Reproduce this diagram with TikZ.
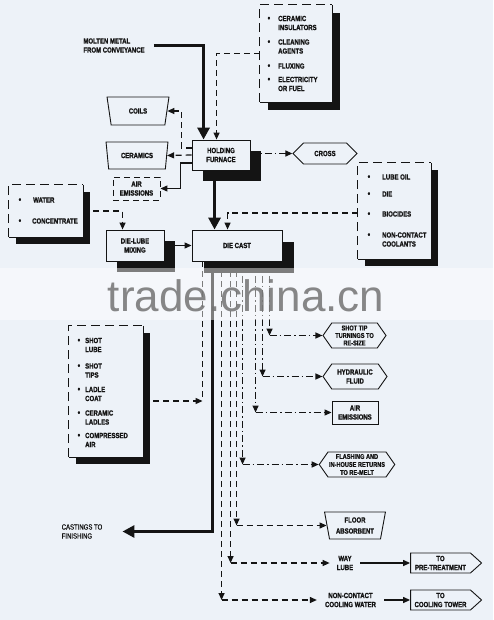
\documentclass[tikz,border=0pt]{standalone}
\usepackage{fontspec}
\usepackage{tikz}
\usetikzlibrary{arrows.meta,calc,shapes.geometric,shapes.symbols,shadows}
\newfontfamily\condfont{Liberation Sans}[FakeStretch=0.8, FakeBold=0.6]
\newfontfamily\condbold{Liberation Sans Bold}[FakeStretch=0.8, FakeBold=1.2]
\newfontfamily\markfont{Liberation Sans}
\definecolor{paper}{HTML}{EDF2F8}
\definecolor{ink}{HTML}{141414}
\newcommand{\bul}[1]{\llap{{\fontsize{9}{9}\selectfont\textbullet}\hspace{#1}}}
\tikzset{
  lab/.style={font=\condbold\fontsize{7.5}{9}\selectfont, text=ink, align=center, inner sep=1pt},
  itm/.style={lab, anchor=west, align=left},
  shad/.style={general shadow={fill=ink, shadow xshift=#1, shadow yshift=-#1}},
  box/.style={lab, draw=ink, fill=paper, line width=0.9pt},
  lbox/.style={fill=paper, inner sep=0pt},
  rim/.style={draw=ink, line width=0.9pt},
  trap/.style={box, trapezium, trapezium stretches=true, shape border rotate=180,
    trapezium left angle=78, trapezium right angle=78},
  hexa/.style={box, signal, signal to=west and east, signal pointer angle=110},
  flow/.style={draw=ink, line width=1.2pt, -{Triangle[length=7pt,width=6pt]}},
  heavy/.style={draw=ink, line width=3pt, -{Triangle[length=12pt,width=12pt]}},
  ds/.style={dash pattern=on 6pt off 4pt},
  dd/.style={dash pattern=on 7pt off 3pt on 1.5pt off 3pt},
}

\begin{document}
\begin{tikzpicture}[x=1pt, y=-1pt]
  \fill[paper] (0,0) rectangle (493,620);
  \useasboundingbox (0,0) rectangle (493,620);

  % holding furnace and its supplies
  \node[lab, inner xsep=9pt, align=left] (molten) at (114,45.5) {MOLTEN METAL\\FROM CONVEYANCE};
  \node[box, shad=11pt, minimum width=58pt, minimum height=30pt] (furnace) at (221,155) {HOLDING\\FURNACE};
  \node[lbox, shad=8pt, minimum width=72pt, minimum height=97pt] (supply) at (296,53.5) {};
  \node[itm] (sup1) at (277,23) {\bul{8pt}CERAMIC\\INSULATORS};
  \node[itm] (sup2) at (277,46.5) {\bul{8pt}CLEANING\\AGENTS};
  \node[itm] (sup3) at (277,66) {\bul{8pt}FLUXING};
  \node[itm] (sup4) at (277,84) {\bul{8pt}ELECTRICITY\\OR FUEL};

  \node[trap, minimum width=62pt, minimum height=28pt] (coils) at (138,111) {COILS};
  \node[trap, minimum width=62pt, minimum height=27pt] (ceramics) at (137,155.5) {CERAMICS};
  \node[box, ds, minimum width=47pt, minimum height=23pt] (airA) at (136.5,188.5) {AIR\\EMISSIONS};
  \node[hexa, signal pointer angle=90, minimum width=64pt, minimum height=21pt] (cross) at (325,153.5) {CROSS};

  % die cast and its supplies
  \node[box, shad=12pt, minimum width=90pt, minimum height=31pt] (diecast) at (237,245.5) {DIE CAST};
  \node[box, shad=11pt, minimum width=58pt, minimum height=31pt] (dielube) at (135,245.5) {DIE-LUBE\\MIXING};
  \node[lbox, shad=7pt, minimum width=74pt, minimum height=52pt] (water) at (46,211) {};
  \node[itm] (wat1) at (32,200) {\bul{12pt}WATER};
  \node[itm] (wat2) at (31,221) {\bul{11pt}CONCENTRATE};
  \node[lbox, shad=7pt, minimum width=73pt, minimum height=96pt] (additive) at (394.5,211) {};
  \node[itm] (add1) at (381,177) {\bul{12pt}LUBE OIL};
  \node[itm] (add2) at (381,194) {\bul{12pt}DIE};
  \node[itm] (add3) at (381,214) {\bul{12pt}BIOCIDES};
  \node[itm] (add4) at (381,239.5) {\bul{12pt}NON-CONTACT\\COOLANTS};
  \node[lbox, shad=7pt, minimum width=74pt, minimum height=131pt] (shotsupply) at (106,391.5) {};
  \node[itm] (shot1) at (84,345) {\bul{5pt}SHOT\\LUBE};
  \node[itm] (shot2) at (84,370.5) {\bul{5pt}SHOT\\TIPS};
  \node[itm] (shot3) at (84,394) {\bul{5pt}LADLE\\COAT};
  \node[itm] (shot4) at (84,417.5) {\bul{5pt}CERAMIC\\LADLES};
  \node[itm] (shot5) at (84,440) {\bul{5pt}COMPRESSED\\AIR};

  \foreach \lb in {supply,additive,water,shotsupply} {
    \draw[rim, dash pattern=on 9pt off 5pt] (\lb.south west) -- (\lb.north west) -- (\lb.north east);
    \draw[rim] (\lb.north east) -- (\lb.south east) -- (\lb.south west);
  }

  % outputs
  \node[lab, font=\condfont\fontsize{7.5}{9}\selectfont, inner xsep=20pt, align=left] (castings) at (82,531.5) {CASTINGS TO\\FINISHING};
  \node[hexa, minimum width=63pt, minimum height=25pt, font=\condbold\fontsize{7}{7.5}\selectfont] (shottip) at (354.5,335.5) {SHOT TIP\\TURNINGS TO\\RE-SIZE};
  \node[hexa, minimum width=64pt, minimum height=25pt] (hydraulic) at (355,376.5) {HYDRAULIC\\FLUID};
  \node[box, minimum width=46pt, minimum height=23pt] (airB) at (355,412.5) {AIR\\EMISSIONS};
  \node[hexa, minimum width=74pt, minimum height=25pt, font=\condbold\fontsize{7}{8}\selectfont] (flashing) at (357,464.5) {FLASHING AND\\IN-HOUSE RETURNS\\TO RE-MELT};
  \node[trap, minimum width=61pt, minimum height=27pt, font=\condbold\fontsize{7.5}{11}\selectfont] (floor) at (355,525.5) {FLOOR\\ABSORBENT};
  \node[lab, inner xsep=7pt] (waylube) at (345,563) {WAY\\LUBE};
  \node[box, signal, signal to=east, signal pointer angle=84, minimum width=71pt, minimum height=20pt] (pretreat) at (440.5,563) {TO\\PRE-TREATMENT};
  \node[lab, inner xsep=8pt] (coolwater) at (350.5,600) {NON-CONTACT\\COOLING WATER};
  \node[box, signal, signal to=east, signal pointer angle=84, minimum width=71pt, minimum height=20pt] (tower) at (440.5,600) {TO\\COOLING TOWER};

  % connectors round the furnace
  \draw[heavy] (molten.east) -| ($(furnace.north west)+(12,0)$);
  \draw[flow, ds] (supply.west) -| ($(furnace.north west)+(25,0)$);
  \draw[flow, ds] ([yshift=7pt]furnace.west) -| ([xshift=14pt]coils.east) -- (coils.east);
  \draw[flow, ds] (furnace.west) -- (ceramics.east);
  \draw[flow] ([yshift=-8pt]furnace.west) -| ([xshift=20pt]airA.east) -- (airA.east);
  \draw[flow, dd] (furnace.east |- cross.west) -- (cross.west);

  % connectors into the die cast
  \draw[heavy] ($(furnace.south west)+(23,0)$) -- ($(diecast.north west)+(23,0)$);
  \draw[flow, ds] ([yshift=-2pt]additive.west) -| ($(diecast.north west)+(36,0)$);
  \draw[flow, ds] (water.east) -| ($(dielube.north west)+(17,0)$);
  \draw[flow] (dielube.east) -- (diecast.west);
  \coordinate (lubetap) at ($(diecast.south west)+(11,0)$);
  \coordinate (shotout) at ([yshift=-9.5pt]shotsupply.east);
  \draw[flow, ds] (shotout) -- (shotout -| lubetap);
  \draw[flow, ds, -] (lubetap) -- (shotout -| lubetap);

  % connectors out of the die cast
  \draw[heavy] ($(diecast.south west)+(21,0)$) |- (castings.east);
  \foreach \dx/\tgt/\sty in {78/shottip/dd,71/hydraulic/dd,64/airB/dd,51/flashing/dd,45/floor/ds,39/waylube/ds,30/coolwater/ds} {
    \coordinate (tap) at ($(diecast.south west)+(\dx,0)$);
    \coordinate (bend) at (tap |- \tgt.west);
    \draw[flow, \sty] (tap) -- (bend);
    \draw[flow, \sty] (bend) -- (\tgt.west);
  }
  \draw[flow] (waylube.east) -- (pretreat.west);
  \draw[flow] (coolwater.east) -- (tower.west);

  % watermark band
  \fill[white, opacity=0.45] (0,268) rectangle (493,320);
  \node[font=\markfont\fontsize{44}{44}\selectfont, text=black!55, opacity=0.85, anchor=base] (mark) at (246,311) {trade.china.cn};
\end{tikzpicture}
\end{document}
